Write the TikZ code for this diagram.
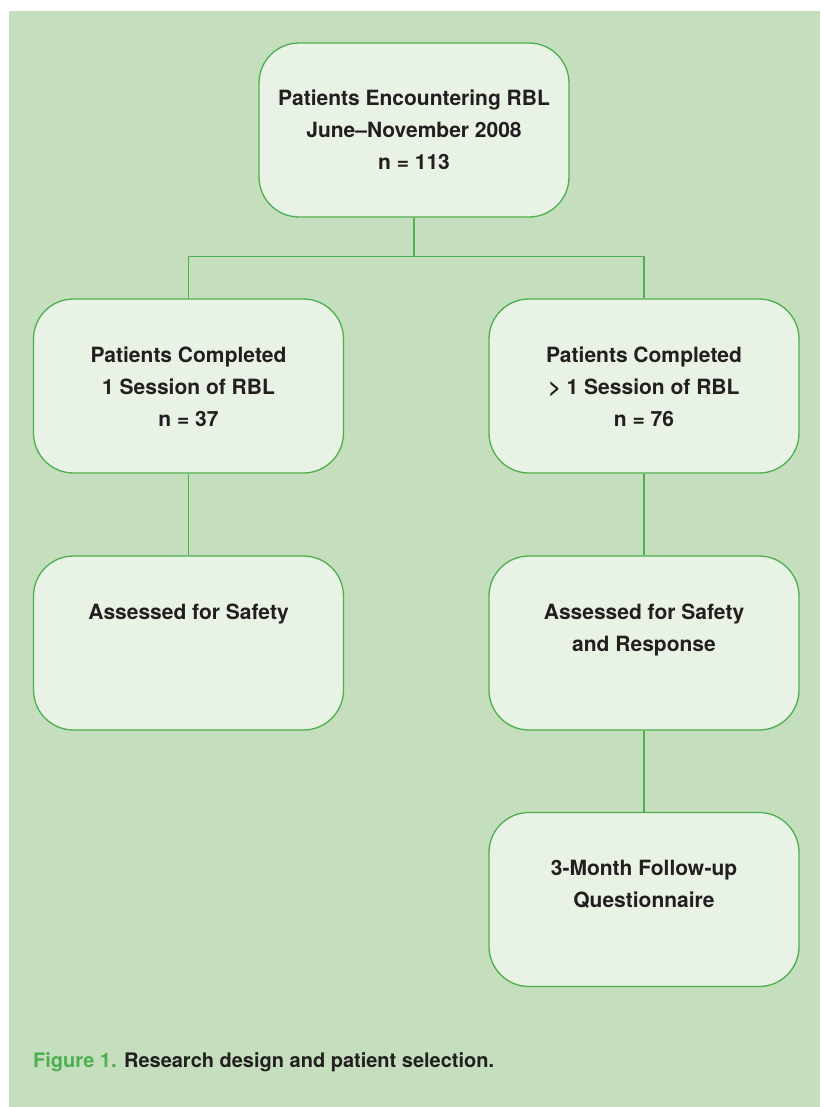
\documentclass[tikz,border=0pt]{standalone}
\usepackage{fontspec}
\setmainfont{TeX Gyre Heros}
\definecolor{bggreen}{HTML}{C5DFBE}
\definecolor{boxfill}{HTML}{E8F2E5}
\definecolor{linegreen}{HTML}{4DAF4E}
\definecolor{textdark}{HTML}{231F20}
\newcommand{\boxtext}[1]{\parbox[c][174pt][t]{300pt}{\centering\fontsize{21pt}{32pt}\selectfont\bfseries\rule{0pt}{63pt}#1}}
\begin{document}
\begin{tikzpicture}[x=1pt,y=-1pt,
  flowbox/.style={draw=linegreen,fill=boxfill,line width=1.3pt,rounded corners=40pt,
    minimum width=310pt,minimum height=174pt,inner sep=0pt,text=textdark},
  link/.style={draw=linegreen,line width=1.3pt}]
\useasboundingbox (0,0) rectangle (820,1107);
\fill[bggreen] (9,11) rectangle (820,1107);
\node[flowbox] (top) at (414,130) {\boxtext{Patients Encountering RBL\\June--November 2008\\n = 113}};
\node[flowbox] (l1) at (188.5,386) {\boxtext{Patients Completed\\1 Session of RBL\\n = 37}};
\node[flowbox] (r1) at (644,386) {\boxtext{Patients Completed\\\textgreater{} 1 Session of RBL\\n = 76}};
\node[flowbox] (l2) at (188.5,643) {\boxtext{Assessed for Safety}};
\node[flowbox] (r2) at (644,643) {\boxtext{Assessed for Safety\\and Response}};
\node[flowbox] (r3) at (644,899.5) {\boxtext{3-Month Follow-up\\Questionnaire}};
\draw[link] (top.south) -- ++(0,39) coordinate (j);
\draw[link] (l1.north) |- (j) -| (r1.north);
\draw[link] (l1.south) -- (l2.north);
\draw[link] (r1.south) -- (r2.north);
\draw[link] (r2.south) -- (r3.north);
\node[anchor=base west,inner sep=0pt,text=textdark,font=\fontsize{20pt}{24pt}\selectfont\bfseries] (cap) at (33,1067)
  {{\color{linegreen}Figure 1.} Research design and patient selection.};
\end{tikzpicture}
\end{document}
